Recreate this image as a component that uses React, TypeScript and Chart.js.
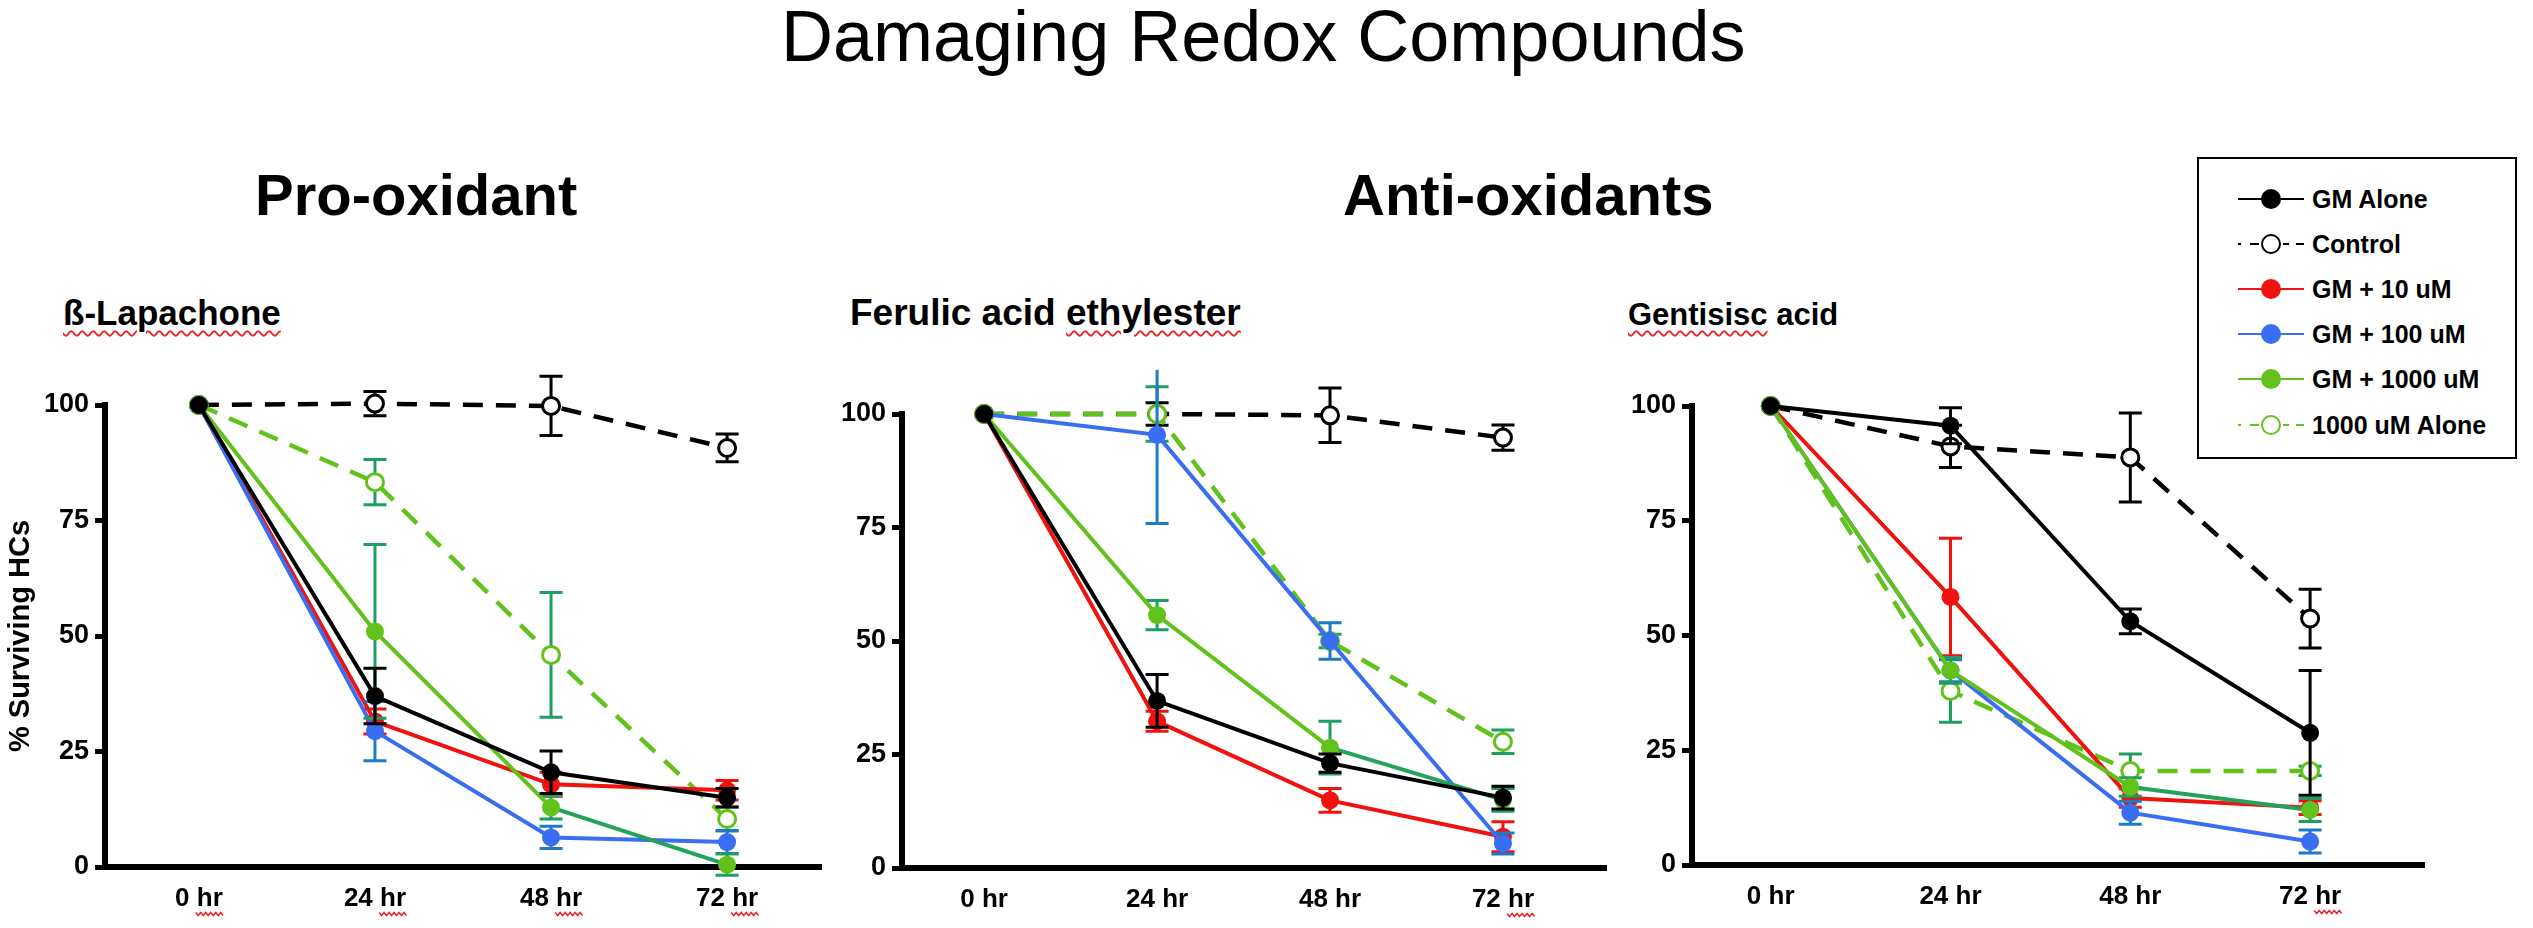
import React, { useEffect, useRef } from 'react';
import { Chart, registerables } from 'chart.js';

Chart.register(...registerables);

const FONT = '"Liberation Sans", Arial, Helvetica, sans-serif';
Chart.defaults.font.family = FONT;

// ---------- data ----------
const timeLabels = ['0 hr', '24 hr', '48 hr', '72 hr'];
const hours = [0, 24, 48, 72];
const yTicks = [0, 25, 50, 75, 100];
const seriesNames = ['GM Alone', 'Control', 'GM + 10 uM', 'GM + 100 uM', 'GM + 1000 uM', '1000 uM Alone'];

// ß-Lapachone
const lapGMAlone = [100, 37, 20.5, 15];
const lapGMAloneErr = [0, 6, 4.6, 2];
const lapControl = [100, 100.3, 99.8, 90.7];
const lapControlErr = [0, 2.6, 6.4, 3];
const lapGM10 = [100, 31.5, 17.9, 16.6];
const lapGM10Err = [0, 2.7, 2.6, 2.1];
const lapGM100 = [100, 29.4, 6.4, 5.4];
const lapGM100Err = [0, 6.4, 2.4, 2.5];
const lapGM1000 = [100, 51, 12.9, 0.5];
const lapGM1000Err = [0, 18.8, 2.5, 2.3];
const lap1000Alone = [100, 83.3, 45.9, 10.4];
const lap1000AloneErr = [0, 4.9, 13.5, 2.6];

// Ferulic acid ethylester
const ferGMAlone = [100, 36.8, 23.1, 15.5];
const ferGMAloneErr = [0, 5.8, 2, 2.5];
const ferControl = [100, 100, 99.7, 94.8];
const ferControlErr = [0, 2.5, 6, 2.8];
const ferGM10 = [100, 32.3, 14.9, 6.9];
const ferGM10Err = [0, 2.2, 2.6, 3.3];
const ferGM100 = [100, 95.4, 50, 5.4];
const ferGM100Err = [0, 19.5, 4, 2.3];
const ferGM1000 = [100, 55.7, 26.5, 15];
const ferGM1000Err = [0, 3.2, 5.8, 2.5];
const fer1000Alone = [100, 100, 50, 27.8];
const fer1000AloneErr = [0, 6, 1.5, 2.6];

// Gentisisc acid
const genGMAlone = [100, 95.7, 53.1, 28.8];
const genGMAloneErr = [0, 3.9, 2.7, 13.6];
const genControl = [100, 91.2, 88.8, 53.7];
const genControlErr = [0, 4.6, 9.7, 6.4];
const genGM10 = [100, 58.4, 14.6, 12.5];
const genGM10Err = [0, 12.8, 2, 1.5];
const genGM100 = [100, 42.4, 11.4, 5.1];
const genGM100Err = [0, 2.5, 2.5, 2.5];
const genGM1000 = [100, 42.4, 17, 12];
const genGM1000Err = [0, 2.8, 2, 2.5];
const gen1000Alone = [100, 37.9, 20.5, 20.5];
const gen1000AloneErr = [0, 6.8, 3.7, 1];

// ---------- styles ----------
type SeriesStyle = { color: string; errColor: string; dashed: boolean; open: boolean; order: number; lastSeg?: string };

const seriesStyles: SeriesStyle[] = [
  { color: '#000000', errColor: '#000000', dashed: false, open: false, order: 0 },
  { color: '#000000', errColor: '#000000', dashed: true, open: true, order: 5 },
  { color: '#f0120e', errColor: '#f0120e', dashed: false, open: false, order: 3 },
  { color: '#3a6ef2', errColor: '#1b7cc4', dashed: false, open: false, order: 2 },
  { color: '#62c21c', errColor: '#1f9e62', dashed: false, open: false, order: 1, lastSeg: '#22a35a' },
  { color: '#62c21c', errColor: '#1f9e62', dashed: true, open: true, order: 4 },
];

type PanelSpec = {
  values: number[][];
  errors: number[][];
  left: number; top: number; width: number; height: number;
  padTop: number; yW: number; xH: number; xMin: number; xMax: number;
  yTitle: boolean; squiggle: number[];
};

const panels: PanelSpec[] = [
  {
    values: [lapGMAlone, lapControl, lapGM10, lapGM100, lapGM1000, lap1000Alone],
    errors: [lapGMAloneErr, lapControlErr, lapGM10Err, lapGM100Err, lapGM1000Err, lap1000AloneErr],
    left: 0, top: 370, width: 841, height: 558, padTop: 35, yW: 105, xH: 61, xMin: -12.8, xMax: 84.8,
    yTitle: true, squiggle: [0, 1, 2, 3],
  },
  {
    values: [ferGMAlone, ferControl, ferGM10, ferGM100, ferGM1000, fer1000Alone],
    errors: [ferGMAloneErr, ferControlErr, ferGM10Err, ferGM100Err, ferGM1000Err, fer1000AloneErr],
    left: 812, top: 370, width: 814, height: 558, padTop: 44, yW: 90, xH: 60, xMin: -11.4, xMax: 86.3,
    yTitle: false, squiggle: [3],
  },
  {
    values: [genGMAlone, genControl, genGM10, genGM100, genGM1000, gen1000Alone],
    errors: [genGMAloneErr, genControlErr, genGM10Err, genGM100Err, genGM1000Err, gen1000AloneErr],
    left: 1602, top: 370, width: 842, height: 558, padTop: 36, yW: 90, xH: 63, xMin: -10.5, xMax: 87.2,
    yTitle: false, squiggle: [3],
  },
];

// ---------- plugins ----------
const errorBarPlugin = {
  id: 'errorBars',
  beforeDatasetDraw(chart: any, args: any) {
    const ds = chart.data.datasets[args.index];
    const errs: number[] = ds.errors;
    if (!errs) return;
    const ys = chart.scales.y;
    const ctx = chart.ctx;
    ctx.save();
    ctx.strokeStyle = ds.errColor;
    ctx.lineWidth = 3;
    ctx.setLineDash([]);
    args.meta.data.forEach((pt: any, i: number) => {
      const e = errs[i];
      if (!e) return;
      const v = ds.data[i].y;
      const x = pt.x;
      const y1 = ys.getPixelForValue(v + e);
      const y2 = ys.getPixelForValue(v - e);
      ctx.beginPath();
      ctx.moveTo(x, y1); ctx.lineTo(x, y2);
      ctx.moveTo(x - 11.5, y1); ctx.lineTo(x + 11.5, y1);
      ctx.moveTo(x - 11.5, y2); ctx.lineTo(x + 11.5, y2);
      ctx.stroke();
    });
    ctx.restore();
  },
};

const squigglePlugin = {
  id: 'squiggle',
  afterDraw(chart: any, _args: any, opts: any) {
    const idx: number[] = (opts && opts.indices) || [];
    const xs = chart.scales.x;
    const ctx = chart.ctx;
    ctx.save();
    ctx.font = `bold 26px ${FONT}`;
    ctx.strokeStyle = '#e8262c';
    ctx.lineWidth = 1.5;
    idx.forEach((i) => {
      const label = timeLabels[i];
      const cx = xs.getPixelForValue(hours[i]);
      const full = ctx.measureText(label).width;
      const hr = ctx.measureText('hr').width;
      const x0 = cx + full / 2 - hr - 1;
      const x1 = cx + full / 2 + 2;
      const y = xs.top + 16 + 26 + 5;
      ctx.beginPath();
      let k = 0;
      for (let x = x0; x <= x1; x += 2.5, k++) {
        const yy = y + (k % 2 ? 1.5 : -1.5);
        if (k === 0) ctx.moveTo(x, yy); else ctx.lineTo(x, yy);
      }
      ctx.stroke();
    });
    ctx.restore();
  },
};

function buildConfig(p: PanelSpec): any {
  const datasets = seriesStyles.map((s, k) => ({
    label: seriesNames[k],
    data: hours.map((h, i) => ({ x: h, y: p.values[k][i] })),
    errors: p.errors[k],
    errColor: s.errColor,
    borderColor: s.color,
    borderWidth: s.dashed ? 4.5 : 4,
    borderDash: s.dashed ? [20, 13] : [],
    segment: s.lastSeg
      ? { borderColor: (c: any) => (c.p1DataIndex === hours.length - 1 ? s.lastSeg : undefined) }
      : undefined,
    pointRadius: s.open ? 8.5 : 9,
    pointHoverRadius: s.open ? 8.5 : 9,
    pointBackgroundColor: s.open ? '#ffffff' : s.color,
    pointBorderColor: s.color,
    pointBorderWidth: s.open ? 3 : 0,
    order: s.order,
    clip: false,
    tension: 0,
    fill: false,
  }));

  return {
    type: 'line',
    data: { datasets },
    plugins: [errorBarPlugin, squigglePlugin],
    options: {
      responsive: false,
      animation: false,
      events: [],
      layout: { padding: { top: p.padTop, right: 20, bottom: 0, left: 0 } },
      plugins: {
        legend: { display: false },
        tooltip: { enabled: false },
        squiggle: { indices: p.squiggle },
      },
      scales: {
        x: {
          type: 'linear',
          min: p.xMin,
          max: p.xMax,
          afterBuildTicks: (s: any) => { s.ticks = hours.map((v) => ({ value: v })); },
          afterFit: (s: any) => { s.height = p.xH; },
          ticks: {
            callback: (v: any) => timeLabels[hours.indexOf(Number(v))],
            font: { family: FONT, size: 26, weight: 'bold' },
            color: '#000',
            padding: 16,
            autoSkip: false,
            maxRotation: 0,
          },
          grid: { display: true, drawOnChartArea: false, drawTicks: false },
          border: { display: true, width: 6, color: '#000' },
        },
        y: {
          type: 'linear',
          min: 0,
          max: 100,
          afterBuildTicks: (s: any) => { s.ticks = yTicks.map((v) => ({ value: v })); },
          afterFit: (s: any) => { s.width = p.yW; },
          ticks: {
            font: { family: FONT, size: 27, weight: 'bold' },
            color: '#000',
            padding: 6,
          },
          grid: { display: true, drawOnChartArea: false, drawTicks: true, tickLength: 10, tickWidth: 5, tickColor: '#000' },
          border: { display: true, width: 6, color: '#000' },
          title: {
            display: p.yTitle,
            text: '% Surviving HCs',
            font: { family: FONT, size: 29, weight: 'bold' },
            color: '#000',
            padding: { top: 4, bottom: 4 },
          },
        },
      },
    },
  };
}

function Panel({ p }: { p: PanelSpec }) {
  const ref = useRef<HTMLCanvasElement>(null);
  useEffect(() => {
    const chart = new Chart(ref.current as HTMLCanvasElement, buildConfig(p));
    return () => chart.destroy();
  }, [p]);
  return (
    <canvas
      ref={ref}
      width={p.width}
      height={p.height}
      style={{ position: 'absolute', left: p.left, top: p.top, width: p.width, height: p.height }}
    />
  );
}

function Swatch({ s }: { s: SeriesStyle }) {
  const segs = s.dashed ? [[0, 3], [12, 21], [45, 51], [58, 66]] : [[0, 66]];
  return (
    <svg width={68} height={26} style={{ position: 'absolute', left: 0, top: 0 }}>
      {segs.map((g, i) => (
        <line key={i} x1={g[0]} x2={g[1]} y1={13} y2={13} stroke={s.color} strokeWidth={2} />
      ))}
      <circle cx={33} cy={13} r={s.open ? 9 : 10} fill={s.open ? '#fff' : s.color} stroke={s.color} strokeWidth={s.open ? 2 : 0} />
    </svg>
  );
}

function Legend() {
  return (
    <div
      style={{
        position: 'absolute', left: 2197, top: 157, width: 320, height: 302,
        border: '2.5px solid #000', boxSizing: 'border-box', background: '#fff',
      }}
    >
      {seriesNames.map((name, i) => (
        <div key={name} style={{ position: 'absolute', left: 39, top: 27 + i * 45.1, height: 26, width: 270 }}>
          <Swatch s={seriesStyles[i]} />
          <div
            style={{
              position: 'absolute', left: 74, top: 0, lineHeight: '26px', fontSize: 25,
              fontWeight: 'bold', fontFamily: FONT, whiteSpace: 'nowrap', color: '#000',
            }}
          >
            {name}
          </div>
        </div>
      ))}
    </div>
  );
}

const wavy: React.CSSProperties = {
  textDecorationLine: 'underline',
  textDecorationStyle: 'wavy',
  textDecorationColor: '#e8262c',
  textDecorationThickness: '1.5px',
  textUnderlineOffset: '5px',
};

function Text({ left, top, size, bold, children }: any) {
  return (
    <div
      style={{
        position: 'absolute', left, top, fontSize: size, lineHeight: 1,
        fontWeight: bold ? 'bold' : 'normal', fontFamily: FONT, whiteSpace: 'nowrap', color: '#000',
      }}
    >
      {children}
    </div>
  );
}

export default function App() {
  return (
    <div style={{ position: 'absolute', left: 0, top: 0, width: 2533, height: 928, background: '#fff', overflow: 'hidden' }}>
      <Text left={781} top={0} size={72}>Damaging Redox Compounds</Text>
      <Text left={255} top={166} size={58} bold>Pro-oxidant</Text>
      <Text left={1343} top={166} size={58} bold>Anti-oxidants</Text>
      <Text left={63} top={295} size={35} bold><span style={wavy}>ß-Lapachone</span></Text>
      <Text left={850} top={294} size={37} bold>Ferulic acid <span style={wavy}>ethylester</span></Text>
      <Text left={1628} top={299} size={31} bold><span style={wavy}>Gentisisc</span> acid</Text>
      {panels.map((p, i) => (
        <Panel key={i} p={p} />
      ))}
      <Legend />
    </div>
  );
}
